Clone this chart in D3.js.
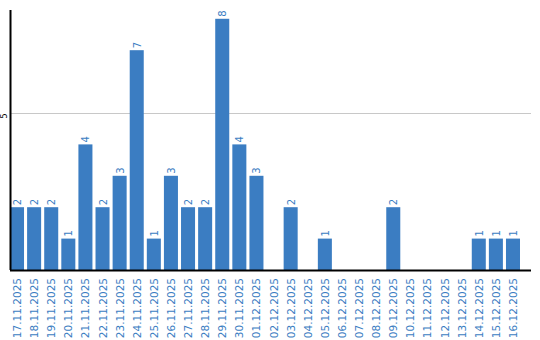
<!DOCTYPE html>
<html lang="en">
<meta charset="UTF-8">
<script src="https://d3js.org/d3.v7.min.js"></script>
<style>
body {margin:0; background:#fff;}
text {font-family: "DejaVu Sans", sans-serif;}
</style>
<body>
<div id="chart"></div>
<script>
// data
var dates = ["17.11.2025","18.11.2025","19.11.2025","20.11.2025","21.11.2025","22.11.2025",
  "23.11.2025","24.11.2025","25.11.2025","26.11.2025","27.11.2025","28.11.2025","29.11.2025",
  "30.11.2025","01.12.2025","02.12.2025","03.12.2025","04.12.2025","05.12.2025","06.12.2025",
  "07.12.2025","08.12.2025","09.12.2025","10.12.2025","11.12.2025","12.12.2025","13.12.2025",
  "14.12.2025","15.12.2025","16.12.2025"];
var counts = [2,2,2,1,4,2,3,7,1,3,2,2,8,4,3,0,2,0,1,0,0,0,2,0,0,0,0,1,1,1];
var yTicks = [5];

var W = 540, H = 340;
var plotLeft = 10, plotRight = 520, plotTop = 10, base = 270;
var blue = "#3b7dc2";

var svg = d3.select("#chart").append("svg")
  .attr("width", W).attr("height", H);

var x = d3.scaleBand().domain(dates).range([plotLeft, plotRight]).paddingInner(0.18).paddingOuter(0);
var y = d3.scaleLinear().domain([0, 8.28]).range([base, plotTop]);

// grid line
svg.selectAll(".grid").data(yTicks).enter().append("line")
  .attr("x1", plotLeft).attr("x2", 531)
  .attr("y1", function(d){ return Math.round(y(d)) + 0.5; })
  .attr("y2", function(d){ return Math.round(y(d)) + 0.5; })
  .attr("stroke", "#c8c8c8");

// y tick labels
svg.selectAll(".ytick").data(yTicks).enter().append("text")
  .attr("transform", function(d){ return "translate(7," + (y(d) + 3) + ") rotate(-90)"; })
  .attr("text-anchor", "middle")
  .style("font-size", "8px")
  .text(function(d){ return d; });

// bars
svg.selectAll(".bar").data(counts).enter().append("rect")
  .attr("x", function(d, i){ return x(dates[i]); })
  .attr("width", x.bandwidth())
  .attr("y", function(d){ return y(d); })
  .attr("height", function(d){ return base - y(d); })
  .attr("fill", blue);

// value labels (only for non-zero bars)
counts.forEach(function(d, i){
  if (d <= 0) return;
  svg.append("text")
    .attr("transform", "translate(" + (x(dates[i]) + x.bandwidth()/2 + 4) + "," + (y(d) - 2) + ") rotate(-90)")
    .attr("text-anchor", "start")
    .attr("fill", blue)
    .style("font-size", "10px")
    .text(d);
});

// axes lines
svg.append("line").attr("x1", plotLeft + 0.5).attr("x2", plotLeft + 0.5)
  .attr("y1", plotTop).attr("y2", base).attr("stroke", "#000").attr("stroke-width", 2);
svg.append("line").attr("x1", plotLeft).attr("x2", 531)
  .attr("y1", base + 0.5).attr("y2", base + 0.5).attr("stroke", "#000").attr("stroke-width", 2);

// x labels
svg.selectAll(".xl").data(dates).enter().append("text")
  .attr("transform", function(d){ return "translate(" + (x(d) + x.bandwidth()/2 + 4) + "," + 278 + ") rotate(-90)"; })
  .attr("text-anchor", "end")
  .attr("fill", blue)
  .style("font-size", "10.5px")
  .text(function(d){ return d; });
</script>
</body>
</html>
